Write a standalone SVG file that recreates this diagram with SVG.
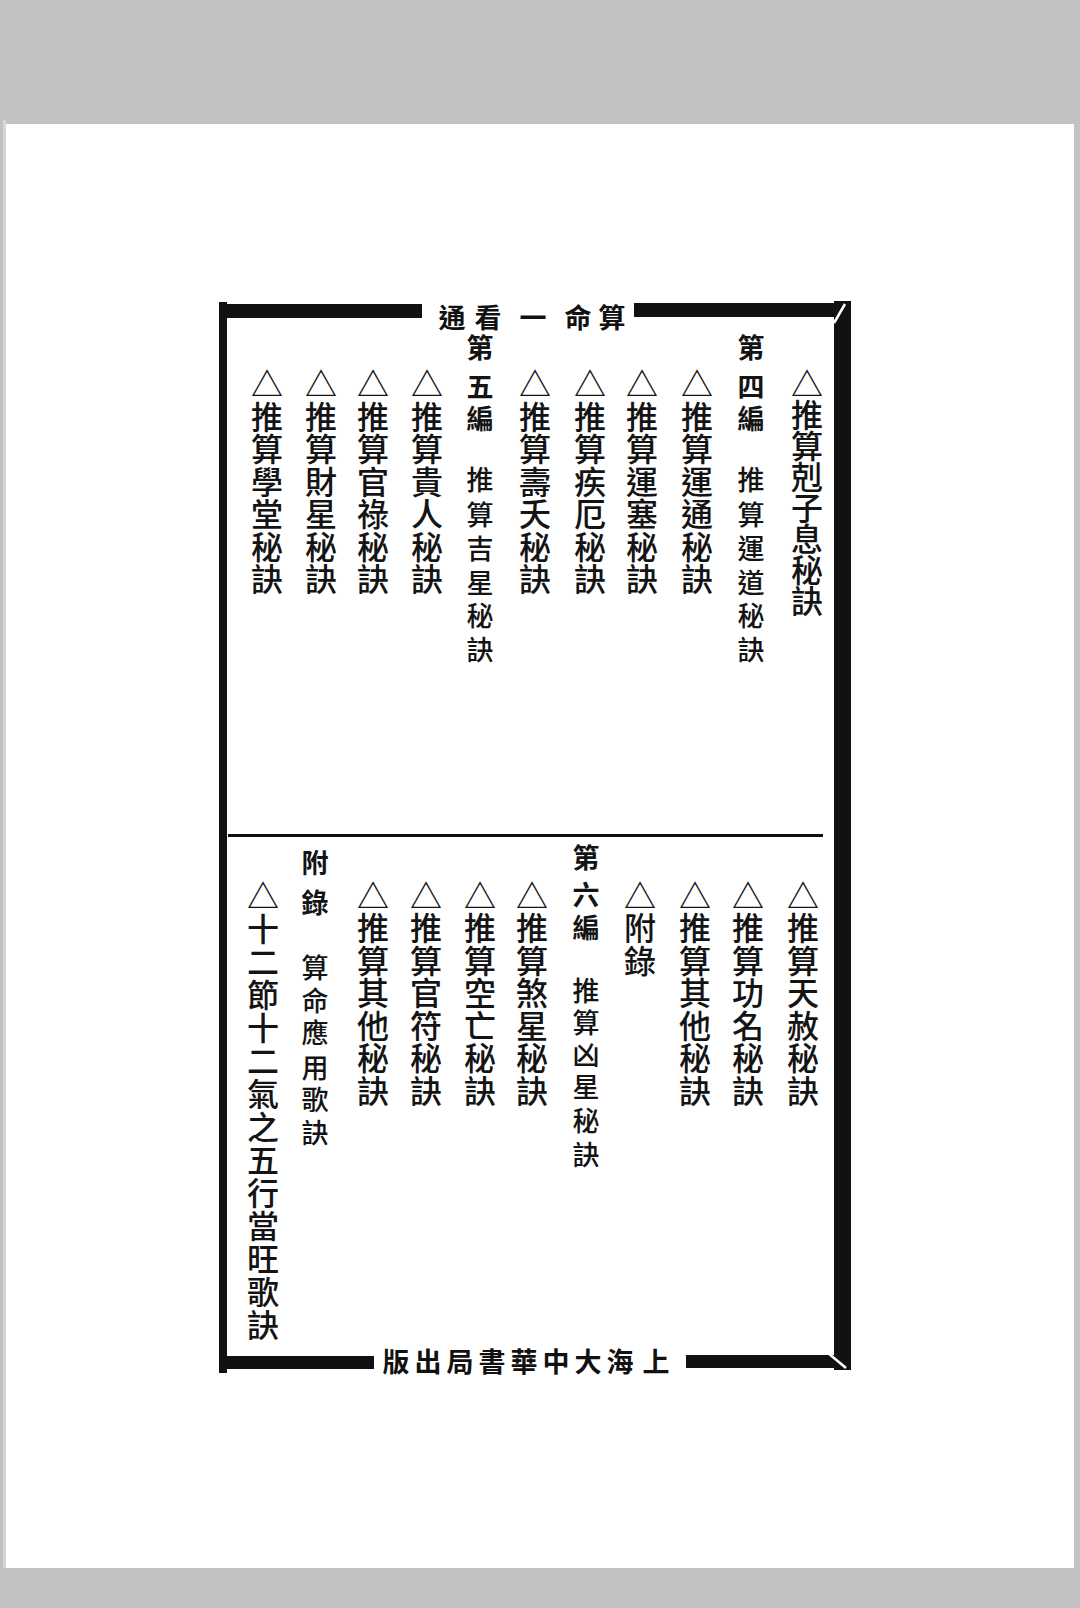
<svg xmlns="http://www.w3.org/2000/svg" width="1080" height="1608" viewBox="0 0 1080 1608">
<style>
.bg{fill:#c2c2c2}
.page{fill:#ffffff}
.ink{fill:#111111}
.mitre{stroke:#ffffff;stroke-width:2.5;fill:none}
.main{font-family:"Noto Sans CJK TC","Noto Sans CJK SC",sans-serif;font-size:32px;font-weight:500;fill:#141414;text-anchor:middle}
.head{font-family:"Noto Sans CJK TC","Noto Sans CJK SC",sans-serif;font-size:27px;font-weight:700;fill:#141414;text-anchor:middle}
.sub{font-family:"Noto Sans CJK TC","Noto Sans CJK SC",sans-serif;font-size:27px;font-weight:500;fill:#141414;text-anchor:middle}
.title{font-family:"Noto Sans CJK TC","Noto Sans CJK SC",sans-serif;font-size:27px;font-weight:700;fill:#111111;text-anchor:middle}
</style>
<rect class="bg" x="0" y="0" width="1080" height="1608"/>
<rect x="3" y="120" width="3" height="1448" fill="#d6d6d6"/>
<rect class="page" x="6" y="124" width="1068" height="1444"/>

<g id="frame">
<rect class="ink" x="219" y="304" width="203" height="14"/>
<rect class="ink" x="634" y="303" width="217" height="14"/>
<rect class="ink" x="219" y="302" width="8" height="1071"/>
<rect class="ink" x="834" y="301" width="17" height="1069"/>
<rect class="ink" x="219" y="1356" width="155" height="13"/>
<rect class="ink" x="686" y="1355" width="165" height="13"/>
<rect class="ink" x="228" y="834" width="595" height="3"/>
<line class="mitre" x1="845" y1="304" x2="834" y2="323"/>
<line class="mitre" x1="828" y1="1353" x2="846" y2="1368"/>
</g>

<g id="title">
<text class="title" x="452 488 533 578 612" y="328 328 328 328 328">通看一命算</text>
</g>

<g id="imprint">
<text class="title" x="396 428 460 492 524 556 588 620 656" y="1372 1372 1372 1372 1372 1372 1372 1372 1372">版出局書華中大海上</text>
</g>

<g id="upper">
<g id="u1"><text class="main" x="807 807 807 807 807 807 807 807" y="395.5 426.5 457.5 488.5 519.5 550.5 581.5 612.5">△推算剋子息秘訣</text></g>
<g id="u2"><text class="head" x="751 751 751" y="358 397 429">第四編</text><text class="sub" x="751 751 751 751 751 751" y="490 525 559 593 626 660">推算運道秘訣</text></g>
<g id="u3"><text class="main" x="697 697 697 697 697 697 697" y="396 429 461 494 526 559 591">△推算運通秘訣</text></g>
<g id="u4"><text class="main" x="642 642 642 642 642 642 642" y="396 429 461 494 526 559 591">△推算運塞秘訣</text></g>
<g id="u5"><text class="main" x="590 590 590 590 590 590 590" y="396 429 461 494 526 559 591">△推算疾厄秘訣</text></g>
<g id="u6"><text class="main" x="535 535 535 535 535 535 535" y="396 429 461 494 526 559 591">△推算壽夭秘訣</text></g>
<g id="u7"><text class="head" x="480 480 480" y="358 397 429">第五編</text><text class="sub" x="480 480 480 480 480 480" y="490 525 559 593 626 660">推算吉星秘訣</text></g>
<g id="u8"><text class="main" x="427 427 427 427 427 427 427" y="396 429 461 494 526 559 591">△推算貴人秘訣</text></g>
<g id="u9"><text class="main" x="373 373 373 373 373 373 373" y="396 429 461 494 526 559 591">△推算官祿秘訣</text></g>
<g id="u10"><text class="main" x="321 321 321 321 321 321 321" y="396 429 461 494 526 559 591">△推算財星秘訣</text></g>
<g id="u11"><text class="main" x="267 267 267 267 267 267 267" y="396 429 461 494 526 559 591">△推算學堂秘訣</text></g>
</g>

<g id="lower">
<g id="l1"><text class="main" x="803 803 803 803 803 803 803" y="907.5 940 972.5 1005 1037.5 1070 1102.5">△推算天赦秘訣</text></g>
<g id="l2"><text class="main" x="748 748 748 748 748 748 748" y="907.5 940 972.5 1005 1037.5 1070 1102.5">△推算功名秘訣</text></g>
<g id="l3"><text class="main" x="695 695 695 695 695 695 695" y="907.5 940 972.5 1005 1037.5 1070 1102.5">△推算其他秘訣</text></g>
<g id="l4"><text class="main" x="640 640 640" y="907.5 940 972.5">△附錄</text></g>
<g id="l5"><text class="head" x="586 586 586" y="868 905 938">第六編</text><text class="sub" x="586 586 586 586 586 586" y="1001 1033 1065 1097 1131 1165">推算凶星秘訣</text></g>
<g id="l6"><text class="main" x="532 532 532 532 532 532 532" y="907.5 940 972.5 1005 1037.5 1070 1102.5">△推算煞星秘訣</text></g>
<g id="l7"><text class="main" x="480 480 480 480 480 480 480" y="907.5 940 972.5 1005 1037.5 1070 1102.5">△推算空亡秘訣</text></g>
<g id="l8"><text class="main" x="426 426 426 426 426 426 426" y="907.5 940 972.5 1005 1037.5 1070 1102.5">△推算官符秘訣</text></g>
<g id="l9"><text class="main" x="373 373 373 373 373 373 373" y="907.5 940 972.5 1005 1037.5 1070 1102.5">△推算其他秘訣</text></g>
<g id="l10"><text class="head" x="315 315" y="873 913">附錄</text><text class="sub" x="315 315 315 315 315 315" y="978 1011 1043 1078 1110 1143">算命應用歌訣</text></g>
<g id="l11"><text class="main" x="263 263 263 263 263 263 263 263 263 263 263 263 263 263" y="907.5 940.5 973.5 1006.5 1039.5 1072.5 1105.5 1138.5 1171.5 1204.5 1237.5 1270.5 1303.5 1336.5">△十二節十二氣之五行當旺歌訣</text></g>
</g>

<g id="connectors"></g>
</svg>
